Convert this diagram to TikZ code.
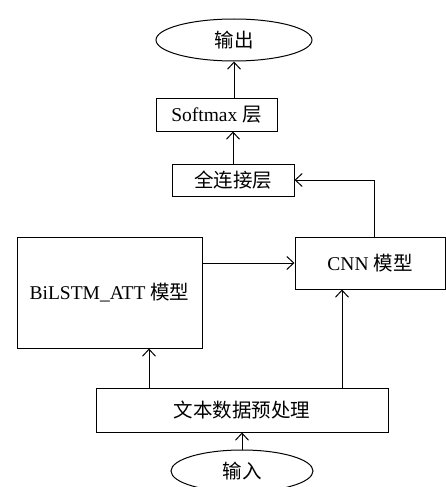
\documentclass[tikz,border=0pt]{standalone}
\usepackage{fontspec}
\setmainfont{Liberation Serif}
\newfontfamily\cjk{Noto Sans CJK SC}
\usetikzlibrary{shapes.geometric,arrows.meta}
\begin{document}
\begin{tikzpicture}[x=1pt,y=-1pt,
  every node/.style={font=\fontsize{19.5}{23}\selectfont, inner sep=0pt, line width=1pt},
  boxnode/.style={draw, rectangle},
  ellnode/.style={draw, ellipse},
  arr/.style={draw, line width=1pt, -{Straight Barb[length=7pt,width=13pt]}}]
\useasboundingbox (0,0) rectangle (446,487);
\node[ellnode, minimum width=156pt, minimum height=42pt] (out) at (234,40) {{\cjk 输出}};
\node[boxnode, minimum width=121pt, minimum height=33pt] (soft) at (216.5,114.5) {Softmax {\cjk 层}};
\node[boxnode, minimum width=122pt, minimum height=32pt] (fc) at (233,180) {{\cjk 全连接层}};
\node[boxnode, minimum width=150pt, minimum height=52pt] (cnn) at (370,263) {CNN {\cjk 模型}};
\node[boxnode, minimum width=185pt, minimum height=111pt] (bil) at (109.5,292.5) {BiLSTM\_ATT {\cjk 模型}};
\node[boxnode, minimum width=292pt, minimum height=44pt] (pre) at (242,410) {{\cjk 文本数据预处理}};
\node[ellnode, minimum width=142pt, minimum height=42pt] (in) at (242,471) {{\cjk 输入}};
\draw[arr] (soft.north -| out.south) -- (out.south);
\draw[arr] (fc.north) -- (fc.north |- soft.south);
\draw[arr] ([xshift=4pt]cnn.north) |- (fc.east);
\draw[arr] (bil.east |- cnn.west) -- (cnn.west);
\draw[arr] ([xshift=-93pt]pre.north) -- ([xshift=-93pt]pre.north |- bil.south);
\draw[arr] ([xshift=100pt]pre.north) -- ([xshift=100pt]pre.north |- cnn.south);
\draw[arr] (in.north) -- (pre.south);
\end{tikzpicture}
\end{document}
